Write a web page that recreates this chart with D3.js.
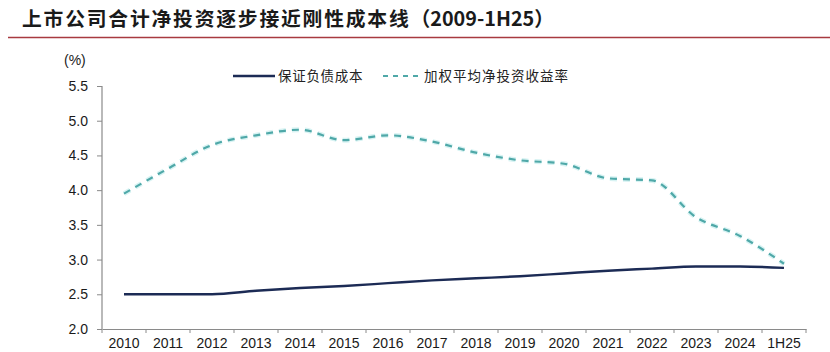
<!DOCTYPE html>
<html><head><meta charset="utf-8">
<script src="https://cdn.jsdelivr.net/npm/d3@7"></script>
<style>body{margin:0;background:#fff;}svg{display:block;}</style>
</head><body>
<script>
const categories = ["2010","2011","2012","2013","2014","2015","2016","2017","2018","2019","2020","2021","2022","2023","2024","1H25"];
const liabilityCost = [2.50,2.50,2.50,2.55,2.59,2.62,2.66,2.70,2.73,2.76,2.80,2.84,2.87,2.90,2.90,2.88];
const netInvestYield = [3.95,4.31,4.65,4.79,4.87,4.72,4.79,4.70,4.54,4.43,4.38,4.17,4.14,3.61,3.34,2.94];
const yTicks = [2.0,2.5,3.0,3.5,4.0,4.5,5.0,5.5];
const seriesNames = ["保证负债成本","加权平均净投资收益率"];
const titleMain = "上市公司合计净投资逐步接近刚性成本线";
const titleTail = "（2009-1H25）";

const W = 830, H = 352;
const svg = d3.select("body").append("svg").attr("width", W).attr("height", H);

const t = svg.append("text").attr("x", 22).attr("y", 26)
  .attr("font-family", "'Noto Sans CJK SC'").attr("font-weight", 700)
  .attr("font-size", 19.8).attr("fill", "#1a1a1a");
t.append("tspan").attr("letter-spacing", 1.8).text(titleMain);
t.append("tspan").text(titleTail);
svg.append("line").attr("x1", 8).attr("x2", 830).attr("y1", 37.5).attr("y2", 37.5)
  .attr("stroke", "#a83a40").attr("stroke-width", 1.6);

const x = d3.scaleBand().domain(categories).range([102, 806]);
const y = d3.scaleLinear().domain([2.0, 5.5]).range([329, 86]);

const axisColor = "#8a8a8a";
const gy = svg.append("g").attr("transform", "translate(102,0)")
  .call(d3.axisLeft(y).tickValues(yTicks).tickFormat(d3.format(".1f")).tickSize(5).tickPadding(9));
const gx = svg.append("g").attr("transform", "translate(0,329)")
  .call(d3.axisBottom(x).tickSize(0).tickPadding(9));
[gy, gx].forEach(g => {
  g.select(".domain").attr("stroke", axisColor).attr("stroke-width", 1.2);
  g.selectAll(".tick line").attr("stroke", axisColor);
  g.selectAll("text").attr("font-family", "Arial, 'Liberation Sans'").attr("font-size", 14).attr("fill", "#1a1a1a");
});
gy.select(".domain").attr("d", "M-0,86V329");
// x tick marks at band boundaries
const bounds = categories.map(c => x(c)).concat([x.range()[1]]);
svg.append("g").selectAll("line").data(bounds).join("line")
  .attr("x1", d => d).attr("x2", d => d).attr("y1", 329).attr("y2", 333)
  .attr("stroke", axisColor);

svg.append("text").attr("x", 64).attr("y", 65).attr("font-family", "Arial, 'Liberation Sans'")
  .attr("font-size", 14).attr("fill", "#1a1a1a").text("(%)");

const cx = c => x(c) + x.bandwidth() / 2;
const line = d3.line().x((d, i) => cx(categories[i])).y(d => y(d)).curve(d3.curveMonotoneX);

svg.append("path").datum(netInvestYield).attr("d", line).attr("fill", "none")
  .attr("stroke", "#d8f3f3").attr("stroke-width", 5).attr("stroke-dasharray", "7,6");
svg.append("path").datum(netInvestYield).attr("d", line).attr("fill", "none")
  .attr("stroke", "#4fa8a8").attr("stroke-width", 2.2).attr("stroke-dasharray", "7,6");
svg.append("path").datum(liabilityCost).attr("d", line).attr("fill", "none")
  .attr("stroke", "#1c2b55").attr("stroke-width", 2.4);

// legend
const lg = svg.append("g");
lg.append("line").attr("x1", 233).attr("x2", 275).attr("y1", 76).attr("y2", 76)
  .attr("stroke", "#1c2b55").attr("stroke-width", 2.6);
lg.append("text").attr("x", 278).attr("y", 81).attr("font-family", "'Noto Sans CJK SC'")
  .attr("font-size", 13.5).attr("letter-spacing", 0.7).attr("fill", "#222").text(seriesNames[0]);
lg.append("line").attr("x1", 383).attr("x2", 419).attr("y1", 76).attr("y2", 76)
  .attr("stroke", "#4fa8a8").attr("stroke-width", 2).attr("stroke-dasharray", "5,5");
lg.append("text").attr("x", 424).attr("y", 81).attr("font-family", "'Noto Sans CJK SC'")
  .attr("font-size", 13.5).attr("letter-spacing", 1).attr("fill", "#222").text(seriesNames[1]);
</script>
</body></html>
